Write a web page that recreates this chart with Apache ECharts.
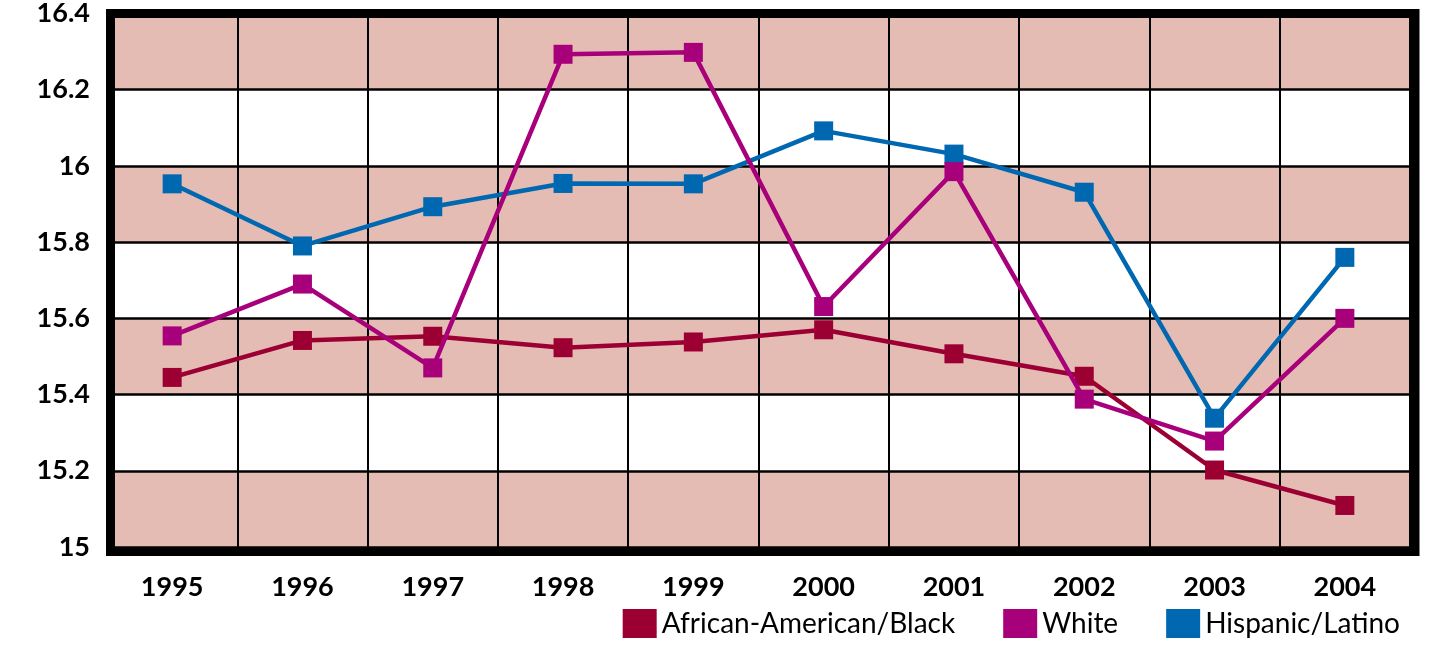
<!DOCTYPE html>
<html>
<head>
<meta charset="utf-8">
<script src="https://cdn.jsdelivr.net/npm/echarts@6/dist/echarts.min.js"></script>
<style>
  html, body { margin: 0; padding: 0; background: #fff; }
  #chart { width: 1431px; height: 647px; }
</style>
</head>
<body>
<div id="chart"></div>
<script>
// categories and series
const years = ['1995', '1996', '1997', '1998', '1999', '2000', '2001', '2002', '2003', '2004'];
const black = [15.445, 15.542, 15.553, 15.523, 15.538, 15.570, 15.507, 15.448, 15.202, 15.109];
const white = [15.554, 15.690, 15.470, 16.293, 16.298, 15.631, 15.985, 15.388, 15.278, 15.600];
const hispanic = [15.953, 15.790, 15.893, 15.954, 15.953, 16.092, 16.031, 15.931, 15.338, 15.760];
const yTicks = { min: 15, max: 16.4, step: 0.2 };

const colors = {
  black: '#9c0032',
  white: '#a8007a',
  hispanic: '#0068b1'
};

const chart = echarts.init(document.getElementById('chart'));

function lineSeries(name, data, color, z) {
  return {
    name: name,
    type: 'line',
    data: data,
    z: z,
    symbol: 'rect',
    symbolSize: 19,
    lineStyle: { color: color, width: 4.5 },
    itemStyle: { color: color },
    emphasis: { disabled: true }
  };
}

chart.setOption({
  animation: false,
  grid: { left: 107, right: 21, top: 12, bottom: 100 },
  xAxis: {
    type: 'category',
    data: years,
    boundaryGap: true,
    axisLine: { show: false },
    axisTick: { show: false },
    axisLabel: {
      margin: 27,
      color: '#000',
      fontFamily: 'Lato',
      fontWeight: 'bold',
      fontSize: 27
    },
    splitLine: { show: true, interval: 0, lineStyle: { color: '#000', width: 2 } }
  },
  yAxis: {
    type: 'value',
    min: yTicks.min,
    max: yTicks.max,
    interval: yTicks.step,
    axisLine: { show: false },
    axisTick: { show: false },
    axisLabel: {
      margin: 17,
      color: '#000',
      fontFamily: 'Lato',
      fontWeight: 'bold',
      fontSize: 27
    },
    splitLine: { show: true, lineStyle: { color: '#000', width: 2.5 } },
    splitArea: { show: true, areaStyle: { color: ['#e5bcb4', '#ffffff'] } }
  },
  legend: {
    bottom: 4,
    right: 26,
    itemWidth: 34,
    itemHeight: 29,
    itemGap: 48,
    icon: 'rect',
    textStyle: { fontFamily: 'Lato', fontSize: 28, color: '#000' },
    data: ['African-American/Black', 'White', 'Hispanic/Latino']
  },
  graphic: [{
    type: 'rect',
    z: 100,
    shape: { x: 110.5, y: 13.5, width: 1304.5, height: 538 },
    style: { fill: 'none', stroke: '#000', lineWidth: 9 }
  }],
  series: [
    lineSeries('African-American/Black', black, colors.black, 3),
    lineSeries('Hispanic/Latino', hispanic, colors.hispanic, 4),
    lineSeries('White', white, colors.white, 5)
  ]
});
</script>
</body>
</html>
